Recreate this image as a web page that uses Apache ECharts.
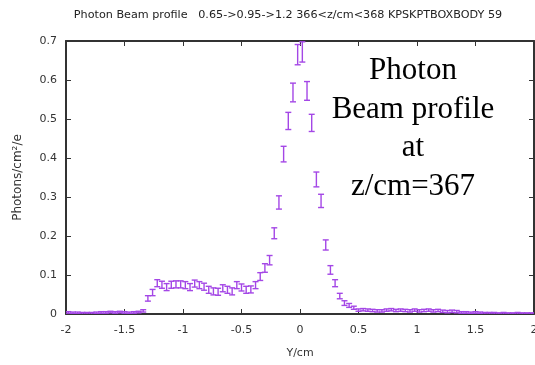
<!DOCTYPE html>
<html><head><meta charset="utf-8">
<script src="https://cdn.jsdelivr.net/npm/echarts@6/dist/echarts.min.js"></script>
<style>html,body{margin:0;padding:0;background:#fff}#c{width:535px;height:365px}</style>
</head><body><div id="c"></div>
<script>
// bin centres (cm), bin width 0.04
const binCenters = [-1.98,-1.94,-1.90,-1.86,-1.82,-1.78,-1.74,-1.70,-1.66,-1.62,-1.58,-1.54,-1.50,-1.46,-1.42,-1.38,-1.34,-1.30,-1.26,-1.22,-1.18,-1.14,-1.10,-1.06,-1.02,-0.98,-0.94,-0.90,-0.86,-0.82,-0.78,-0.74,-0.70,-0.66,-0.62,-0.58,-0.54,-0.50,-0.46,-0.42,-0.38,-0.34,-0.30,-0.26,-0.22,-0.18,-0.14,-0.10,-0.06,-0.02,0.02,0.06,0.10,0.14,0.18,0.22,0.26,0.30,0.34,0.38,0.42,0.46,0.50,0.54,0.58,0.62,0.66,0.70,0.74,0.78,0.82,0.86,0.90,0.94,0.98,1.02,1.06,1.10,1.14,1.18,1.22,1.26,1.30,1.34,1.38,1.42,1.46,1.50,1.54,1.58,1.62,1.66,1.70,1.74,1.78,1.82,1.86,1.90,1.94,1.98];
const photons = [0.004,0.003,0.003,0.002,0.002,0.002,0.003,0.004,0.004,0.005,0.004,0.005,0.004,0.003,0.004,0.005,0.008,0.040,0.055,0.079,0.075,0.069,0.075,0.076,0.076,0.074,0.069,0.078,0.074,0.070,0.062,0.058,0.057,0.066,0.062,0.058,0.074,0.068,0.062,0.063,0.074,0.096,0.118,0.138,0.207,0.286,0.410,0.495,0.568,0.665,0.672,0.572,0.490,0.345,0.290,0.177,0.113,0.079,0.046,0.028,0.022,0.016,0.010,0.011,0.010,0.009,0.008,0.008,0.010,0.011,0.009,0.010,0.009,0.008,0.010,0.008,0.009,0.010,0.008,0.009,0.007,0.006,0.007,0.006,0.004,0.004,0.003,0.004,0.003,0.002,0.002,0.002,0.001,0.002,0.001,0.001,0.002,0.001,0.001,0.001];
const errors = [0.002,0.002,0.002,0.002,0.002,0.002,0.002,0.002,0.002,0.002,0.002,0.002,0.002,0.002,0.002,0.002,0.003,0.007,0.008,0.009,0.009,0.009,0.009,0.009,0.009,0.009,0.009,0.009,0.009,0.009,0.009,0.009,0.009,0.009,0.009,0.009,0.009,0.009,0.009,0.009,0.009,0.010,0.011,0.012,0.014,0.017,0.020,0.022,0.024,0.026,0.026,0.024,0.022,0.019,0.017,0.013,0.011,0.009,0.007,0.006,0.005,0.004,0.003,0.003,0.003,0.003,0.003,0.003,0.003,0.003,0.003,0.003,0.003,0.003,0.003,0.003,0.003,0.003,0.003,0.003,0.003,0.003,0.003,0.003,0.002,0.002,0.002,0.002,0.002,0.002,0.002,0.002,0.002,0.002,0.002,0.002,0.002,0.002,0.002,0.002];
const xTicks = {min:-2, max:2, interval:0.5};
const yTicks = {min:0, max:0.7, interval:0.1};
const titleText = 'Photon Beam profile   0.65->0.95->1.2 366<z/cm<368 KPSKPTBOXBODY 59';
const noteLines = ['Photon','Beam profile','at','z/cm=367'];

const data = binCenters.map((x,i)=>[x, photons[i], errors[i]]);
const col = '#a447e6';
const chart = echarts.init(document.getElementById('c'), null, {renderer:'canvas'});
const axisCol = '#333';
const lblFont = {fontFamily:'DejaVu Sans', fontSize:11, color:'#333'};
chart.setOption({
  animation:false,
  grid:{left:66, right:1, top:41, bottom:51, outerBoundsMode:'none', containLabel:false},
  xAxis:[{type:'value', min:xTicks.min, max:xTicks.max, interval:xTicks.interval,
    name:'Y/cm', nameLocation:'middle', nameGap:34, nameTextStyle:lblFont,
    axisLine:{onZero:false, lineStyle:{color:axisCol, width:2}},
    axisTick:{inside:true, length:5, lineStyle:{color:axisCol}},
    axisLabel:Object.assign({margin:11, formatter:v=>String(v)}, lblFont),
    splitLine:{show:false}},
   {type:'value', position:'top', min:xTicks.min, max:xTicks.max, interval:xTicks.interval,
    axisLine:{onZero:false, lineStyle:{color:axisCol, width:2}},
    axisTick:{inside:true, length:5, lineStyle:{color:axisCol}},
    axisLabel:{show:false}, splitLine:{show:false}}],
  yAxis:[{type:'value', min:yTicks.min, max:yTicks.max, interval:yTicks.interval,
    name:'Photons/cm²/e', nameLocation:'middle', nameGap:42,
    nameTextStyle:{fontFamily:'DejaVu Sans', fontSize:12, color:'#333'},
    axisLine:{show:true, onZero:false, lineStyle:{color:axisCol, width:2}},
    axisTick:{show:true, inside:true, length:5, lineStyle:{color:axisCol}},
    axisLabel:Object.assign({margin:9, formatter:v=>String(+v.toFixed(1))}, lblFont),
    splitLine:{show:false}},
   {type:'value', position:'right', min:yTicks.min, max:yTicks.max, interval:yTicks.interval,
    axisLine:{show:true, onZero:false, lineStyle:{color:axisCol, width:2}},
    axisTick:{show:true, inside:true, length:5, lineStyle:{color:axisCol}},
    axisLabel:{show:false}, splitLine:{show:false}}],
  series:[{
    type:'custom', xAxisIndex:0, yAxisIndex:0, data:data, clip:true,
    encode:{x:0, y:1},
    renderItem:function(params, api){
      const x = api.value(0), y = api.value(1), e = api.value(2);
      const lo = api.coord([x, Math.max(0, y-e)]);
      const hi = api.coord([x, y+e]);
      const hw = 3;
      const st = {stroke:col, lineWidth:1.4};
      return {type:'group', children:[
        {type:'line', shape:{x1:lo[0], y1:lo[1], x2:hi[0], y2:hi[1]}, style:st},
        {type:'line', shape:{x1:lo[0]-hw, y1:lo[1], x2:lo[0]+hw, y2:lo[1]}, style:st},
        {type:'line', shape:{x1:hi[0]-hw, y1:hi[1], x2:hi[0]+hw, y2:hi[1]}, style:st}
      ]};
    }
  }],
  graphic:[{type:'text', x:288, y:15,
      style:{text:titleText, fontFamily:'DejaVu Sans', fontSize:11.2, fill:'#222', align:'center', verticalAlign:'middle'}}]
    .concat(noteLines.map((t,i)=>({type:'text', x:413, y:71+i*38.5,
      style:{text:t, fontFamily:'Liberation Serif', fontSize:31, fill:'#000', align:'center', verticalAlign:'middle'}})))
});
</script></body></html>
